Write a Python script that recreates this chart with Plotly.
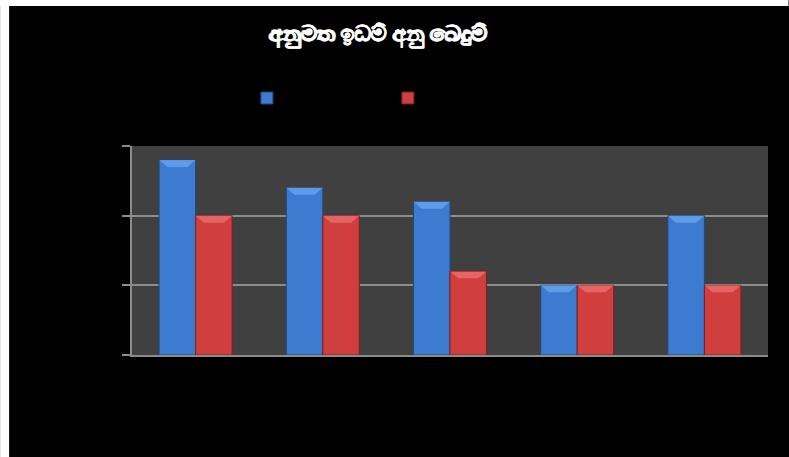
import plotly.graph_objects as go

# Chart data
categories = [0, 1, 2, 3, 4]
blue_values = [14, 12, 11, 5, 10]
red_values = [10, 10, 6, 5, 5]
y_ticks = [0, 5, 10, 15]
title_text = "අනුමත ඉඩම් අනු බෙදුම්"

BLUE = "#3d7bd0"
BLUE_EDGE = "#22487e"
BLUE_TOP = "#6aa6f0"
RED = "#d13e3e"
RED_EDGE = "#7a2020"
RED_TOP = "#ee7272"

BARGAP = 0.426
bar_w = (1 - BARGAP) / 2

fig = go.Figure()
fig.add_trace(go.Bar(x=categories, y=blue_values, name=" ",
                     marker=dict(color=BLUE, line=dict(color=BLUE_EDGE, width=1)),
                     showlegend=True))
fig.add_trace(go.Bar(x=categories, y=red_values, name=" ",
                     marker=dict(color=RED, line=dict(color=RED_EDGE, width=1)),
                     showlegend=True))

# bevelled caps on top of each bar
shapes = []
cap_h = 0.5
inset = 0.065
for vals, side, col in ((blue_values, -1, BLUE_TOP), (red_values, 0, RED_TOP)):
    for c, v in zip(categories, vals):
        x0 = c + side * bar_w
        x1 = x0 + bar_w
        path = (f"M {x0},{v} L {x1},{v} L {x1 - inset},{v - cap_h} "
                f"L {x0 + inset},{v - cap_h} Z")
        shapes.append(dict(type="path", path=path, xref="x", yref="y",
                           fillcolor=col, opacity=0.75, line=dict(width=0),
                           layer="above"))

# page geometry (pixels) and helpers converting to paper coordinates
W, H = 789, 457
L, R, T, B = 132, 20.5, 146, 102
pw = W - L - R
ph = H - T - B


def px(xp):
    return (xp - L) / pw


def py(yp):
    return (T + ph - yp) / ph


# white strips along the left and top edges of the page
shapes.append(dict(type="rect", xref="paper", yref="paper",
                   x0=px(0), x1=px(9), y0=py(H), y1=py(0),
                   fillcolor="white", line=dict(width=0), layer="below"))
shapes.append(dict(type="rect", xref="paper", yref="paper",
                   x0=px(0), x1=px(W), y0=py(6), y1=py(0),
                   fillcolor="white", line=dict(width=0), layer="below"))

fig.update_layout(
    width=W, height=H,
    margin=dict(l=L, r=R, t=T, b=B),
    paper_bgcolor="black",
    plot_bgcolor="#404040",
    barmode="group", bargap=BARGAP, bargroupgap=0,
    title=dict(text=f"<b>{title_text}</b>", x=378 / W, xanchor="center",
               y=1 - 33 / H, yanchor="middle",
               font=dict(family="Noto Sans, DejaVu Sans", size=22, color="white",
                         shadow="0.7px 0 0 white, -0.7px 0 0 white")),
    legend=dict(orientation="h", x=px(247), xanchor="left",
                y=py(98), yanchor="middle",
                font=dict(color="black", size=12),
                entrywidth=96, entrywidthmode="pixels",
                bgcolor="rgba(0,0,0,0)"),
    shapes=shapes,
    font=dict(family="Noto Sans, DejaVu Sans"),
)
fig.update_yaxes(range=[0, 15], tickvals=y_ticks, showgrid=True,
                 gridcolor="#8c8c8c", gridwidth=2,
                 showline=True, linecolor="#8c8c8c", linewidth=2,
                 ticks="outside", ticklen=8, tickcolor="#8c8c8c", tickwidth=2,
                 tickfont=dict(color="black"), zeroline=False, automargin=False)
fig.update_xaxes(range=[-0.5, 4.5], showticklabels=False, showgrid=False,
                 showline=True, linecolor="#8c8c8c", linewidth=2,
                 ticks="", zeroline=False, automargin=False)

fig.write_html("out.html")
